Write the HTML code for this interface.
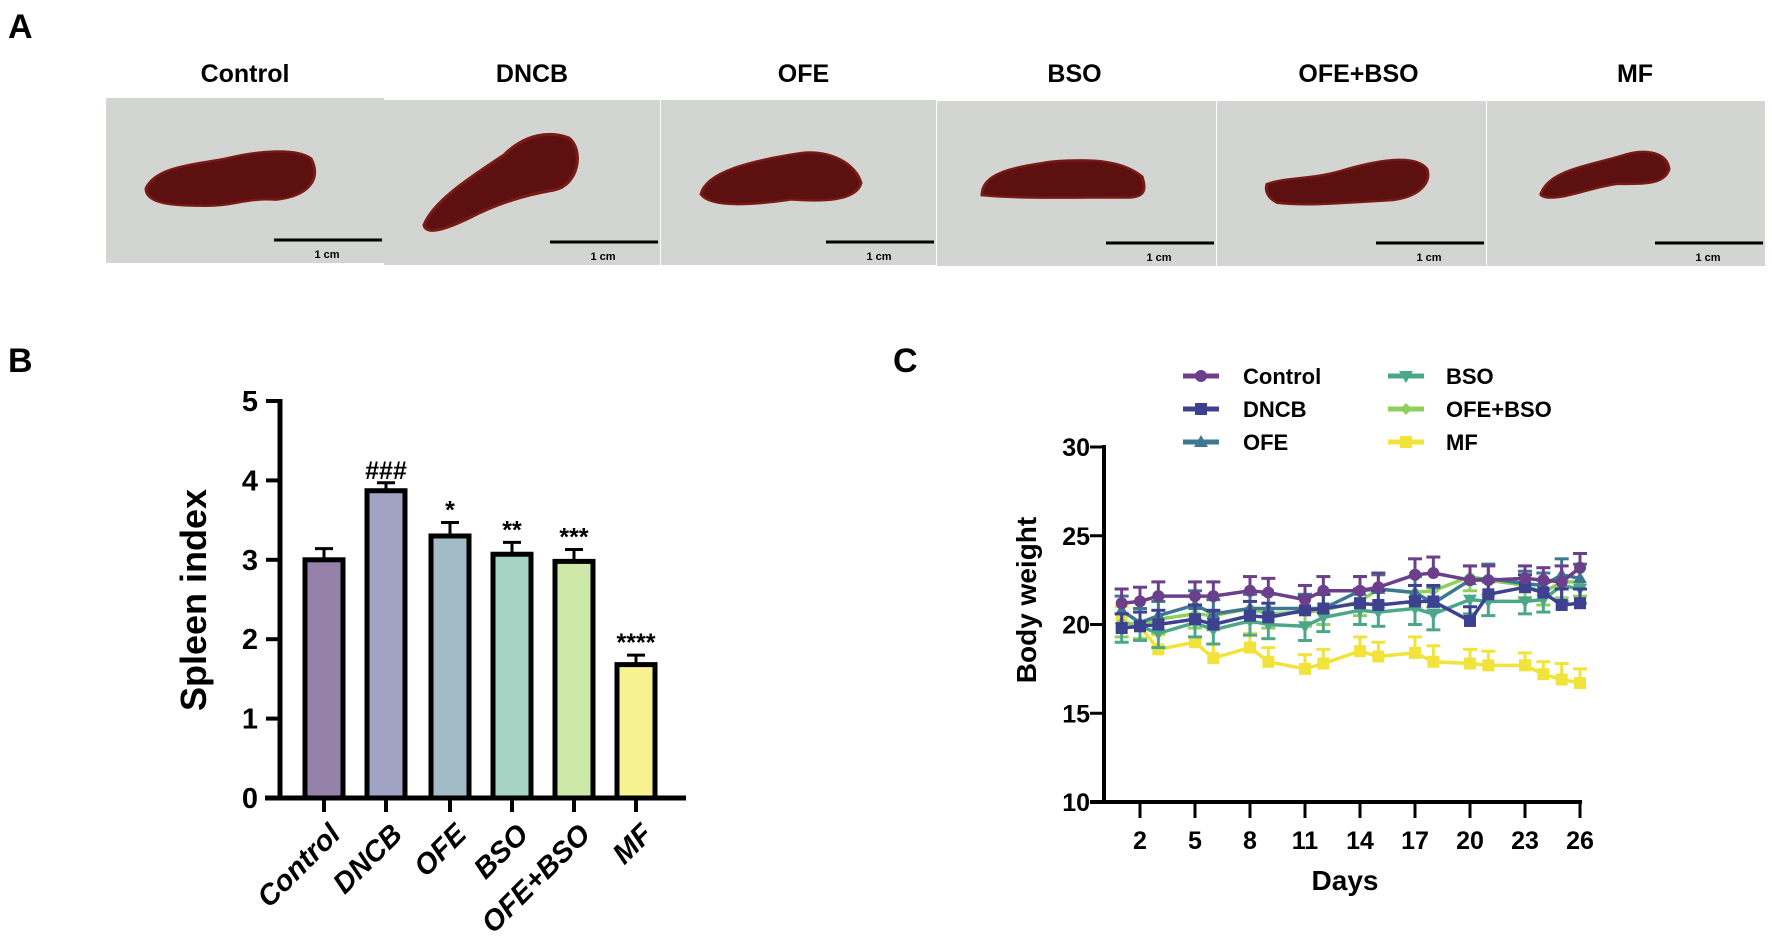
<!DOCTYPE html>
<html><head><meta charset="utf-8"><style>
html,body{margin:0;padding:0;background:#fff;}
svg{display:block;font-family:"Liberation Sans Narrow","Liberation Sans",sans-serif;font-weight:bold;}
</style></head><body>
<svg id="fig" width="1772" height="941" viewBox="0 0 1772 941" xmlns="http://www.w3.org/2000/svg">
<text x="8" y="38" font-size="34" font-family="Liberation Sans">A</text>
<g id="panelA"></g>
<text x="8" y="372" font-size="34" font-family="Liberation Sans">B</text>
<g id="panelB"></g>
<text x="893" y="372" font-size="34" font-family="Liberation Sans">C</text>
<g id="panelC"></g>
</svg>
<script>
// ---- Panel B data ----
const groups = ["Control","DNCB","OFE","BSO","OFE+BSO","MF"];
const spleenMeans = [3.0,3.87,3.3,3.07,2.98,1.68];
const spleenErrs = [0.14,0.1,0.17,0.15,0.15,0.12];
const spleenSig = ["","###","*","**","***","****"];
const spleenTicks = [0,1,2,3,4,5];
// ---- Panel C data ----
const days = [1,2,3,5,6,8,9,11,12,14,15,17,18,20,21,23,24,25,26];
const dayTicks = [2,5,8,11,14,17,20,23,26];
const weightTicks = [10,15,20,25,30];
const wControl = [21.2,21.3,21.6,21.6,21.6,21.9,21.8,21.4,21.9,21.9,22.1,22.8,22.9,22.5,22.5,22.6,22.5,22.4,23.2];
const wDNCB = [19.8,19.9,20.0,20.3,20.0,20.5,20.4,20.8,20.9,21.2,21.1,21.3,21.3,20.2,21.7,22.1,21.8,21.1,21.2];
const wOFE = [20.8,20.1,20.5,21.1,20.6,20.9,20.9,20.9,20.9,21.9,22.0,21.8,21.2,22.5,22.6,22.3,22.2,22.8,22.6];
const wBSO = [19.8,19.9,19.5,20.1,19.7,20.2,20.0,19.9,20.4,20.8,20.7,20.9,20.6,21.4,21.3,21.3,21.4,22.2,22.0];
const wOFEBSO = [20.1,20.0,20.3,20.6,20.5,20.9,20.6,20.7,20.8,21.3,22.0,21.8,21.9,22.7,22.5,22.2,21.8,22.4,22.4];
const wMF = [20.2,19.9,18.6,19.0,18.1,18.7,17.9,17.5,17.8,18.5,18.2,18.4,17.9,17.8,17.7,17.7,17.2,16.9,16.7];
const wErr = [0.8,0.8,0.8,0.8,0.8,0.8,0.8,0.8,0.8,0.8,0.8,0.9,0.9,0.8,0.8,0.7,0.7,0.9,0.8];

const NS="http://www.w3.org/2000/svg";
function mk(tag,attrs,parent,text){const e=document.createElementNS(NS,tag);for(const k in attrs)e.setAttribute(k,attrs[k]);if(text!==undefined)e.textContent=text;parent.appendChild(e);return e;}

// ---- Panel A ----
const A=document.getElementById('panelA');
const photoX=[106,384,661,937,1217,1487];
const photoW=[278,276,275,279,269,278];
const photoTop=[98,100,100,101,101,101];
const titleOff=[0,10,5,-2,7,9];
const shapes=[
 "M40 110 C50 80 90 78 120 70 C150 60 190 55 205 70 C215 95 205 120 170 125 C140 122 125 135 95 133 C60 133 40 128 40 110Z",
 "M40 125 C50 100 90 75 120 55 C140 35 165 30 185 38 C200 50 195 85 170 90 C140 95 110 105 85 118 C60 130 42 135 40 125Z",
 "M30 115 C35 85 80 70 130 60 C160 55 185 75 190 100 C185 125 150 125 120 122 C90 128 40 135 30 115Z",
 "M30 115 C30 85 60 78 100 70 C140 66 170 68 190 90 C195 110 192 120 170 118 C120 118 70 120 30 115Z",
 "M40 100 C60 90 85 95 120 80 C160 65 190 62 200 80 C205 100 190 120 160 122 C120 125 80 130 50 125 C40 118 38 108 40 100Z",
 "M45 110 C55 80 95 75 130 60 C150 53 170 58 172 80 C168 100 150 100 120 100 C95 104 70 120 50 118 C43 116 43 114 45 110Z"];
const photoOff=[0,0,10,15,10,10];
groups.forEach((g,i)=>{
  const gp=mk('g',{transform:`translate(${photoX[i]},${photoTop[i]})`},A);
  
  
  mk('rect',{x:0,y:0,width:photoW[i],height:165,fill:'#d3d5d2'},gp);
  const tf = i===1 ? `translate(0,0)` : `translate(${photoOff[i]},8) scale(1,0.75)`;
  mk('path',{d:shapes[i],fill:'#5c1010',stroke:'#7a1a14','stroke-width':3,transform:tf},gp);
  mk('line',{x1:photoW[i]-110,x2:photoW[i]-2,y1:142,y2:142,stroke:'#000','stroke-width':3},gp);
  mk('text',{x:photoW[i]-57,y:160,'font-size':11,'text-anchor':'middle','font-family':'Liberation Sans'},gp,'1 cm');
  const t=mk('text',{x:photoX[i]+photoW[i]/2+titleOff[i],y:82,'font-size':25,'text-anchor':'middle','font-family':'Liberation Sans'},A,g);
  
  
});

// ---- Panel B ----
const B=document.getElementById('panelB');
const bx0=280,by0=798,by5=401;
const yB=v=>by0+(by5-by0)*v/5;
const barCx=[324,386,450,512,574,636], barW=38;
const barFill=['#9681aa','#a0a3c4','#a2bbc6','#a6d4c4','#cde8a8','#f7f291'];
mk('line',{x1:bx0,x2:bx0,y1:by5-2,y2:by0,stroke:'#000','stroke-width':5},B);
mk('line',{x1:bx0-15,x2:686,y1:by0,y2:by0,stroke:'#000','stroke-width':5},B);
spleenTicks.forEach(t=>{
  mk('line',{x1:bx0-14,x2:bx0,y1:yB(t),y2:yB(t),stroke:'#000','stroke-width':4},B);
  const e=mk('text',{x:bx0-22,y:yB(t)+10,'font-size':29,'text-anchor':'end'},B,t);
  
  
});
const yl=mk('text',{transform:`translate(206,600) rotate(-90)`,'font-size':36,'text-anchor':'middle','font-family':'Liberation Sans'},B,'Spleen index');


groups.forEach((g,i)=>{
  const cx=barCx[i],v=spleenMeans[i],e=spleenErrs[i];
  mk('line',{x1:cx,x2:cx,y1:yB(v),y2:yB(v+e),stroke:'#000','stroke-width':3},B);
  mk('line',{x1:cx-9,x2:cx+9,y1:yB(v+e),y2:yB(v+e),stroke:'#000','stroke-width':3},B);
  const r=mk('rect',{x:cx-barW/2,y:yB(v),width:barW,height:by0-yB(v),fill:barFill[i],stroke:'#000','stroke-width':5},B);
  
  
  if(spleenSig[i]){const s=mk('text',{x:cx,y:yB(v+e)-4,'font-size':25,'text-anchor':'middle','font-family':'Liberation Sans'},B,spleenSig[i]);
    
    }
  mk('line',{x1:cx,x2:cx,y1:by0,y2:by0+14,stroke:'#000','stroke-width':4},B);
  const l=mk('text',{transform:`translate(${cx+18},${by0+38}) rotate(-45)`,'font-size':29,'text-anchor':'end','font-style':'italic','font-family':'Liberation Sans'},B,g);
  
  
});

// ---- Panel C ----
const C=document.getElementById('panelC');
const cx0=1104,cy10=802,cy30=447,d2=1140,d26=1580;
const xC=d=>d2+(d26-d2)*(d-2)/24;
const yC=v=>cy10+(cy30-cy10)*(v-10)/20;
mk('line',{x1:cx0,x2:cx0,y1:cy30-2,y2:cy10,stroke:'#000','stroke-width':4},C);
mk('line',{x1:cx0-14,x2:xC(26)+2,y1:cy10,y2:cy10,stroke:'#000','stroke-width':4},C);
weightTicks.forEach(t=>{
  mk('line',{x1:cx0-14,x2:cx0,y1:yC(t),y2:yC(t),stroke:'#000','stroke-width':3},C);
  const e=mk('text',{x:cx0-14,y:yC(t)+9,'font-size':25,'text-anchor':'end'},C,t);
  
  
});
dayTicks.forEach(t=>{
  mk('line',{x1:xC(t),x2:xC(t),y1:cy10,y2:cy10+16,stroke:'#000','stroke-width':3},C);
  const e=mk('text',{x:xC(t),y:cy10+47,'font-size':25,'text-anchor':'middle'},C,t);
  
  
});
const dl=mk('text',{x:1345,y:890,'font-size':28,'text-anchor':'middle','font-family':'Liberation Sans'},C,'Days');


const wl=mk('text',{transform:`translate(1036,600) rotate(-90)`,'font-size':28,'text-anchor':'middle','font-family':'Liberation Sans'},C,'Body weight');



const series=[
 {n:'Control',d:wControl,c:'#6b3f8c',m:'circle'},
 {n:'DNCB',d:wDNCB,c:'#3d4190',m:'square'},
 {n:'OFE',d:wOFE,c:'#3c7890',m:'tri'},
 {n:'BSO',d:wBSO,c:'#4ca78a',m:'tridown'},
 {n:'OFE+BSO',d:wOFEBSO,c:'#8fd05c',m:'diamond'},
 {n:'MF',d:wMF,c:'#f1e33a',m:'square'}];
function marker(m,x,y,c,p){
  if(m==='circle')return mk('circle',{cx:x,cy:y,r:6,fill:c},p);
  if(m==='square')return mk('rect',{x:x-6,y:y-6,width:12,height:12,fill:c},p);
  if(m==='tri')return mk('polygon',{points:`${x},${y-7} ${x-7},${y+5} ${x+7},${y+5}`,fill:c},p);
  if(m==='tridown')return mk('polygon',{points:`${x},${y+7} ${x-7},${y-5} ${x+7},${y-5}`,fill:c},p);
  return mk('polygon',{points:`${x},${y-6} ${x-6},${y} ${x},${y+6} ${x+6},${y}`,fill:c},p);
}
const drawOrder=[5,4,3,2,1,0];
drawOrder.forEach(si=>{
  const s=series[si];
  const g=mk('g',{},C);
  
  
  s.d.forEach((v,i)=>{
    const x=xC(days[i]);
    const up = s.n==='BSO'||s.n==='OFE+BSO' ? -1 : 1;
    const ye=yC(v+up*wErr[i]);
    mk('line',{x1:x,x2:x,y1:yC(v),y2:ye,stroke:s.c,'stroke-width':3},g);
    mk('line',{x1:x-7,x2:x+7,y1:ye,y2:ye,stroke:s.c,'stroke-width':3},g);
  });
  mk('polyline',{points:s.d.map((v,i)=>xC(days[i])+','+yC(v)).join(' '),fill:'none',stroke:s.c,'stroke-width':3.5},g);
  s.d.forEach((v,i)=>{const p=marker(s.m,xC(days[i]),yC(v),s.c,g);
    
    });
});
// legend
const legX=[1183,1388],legTX=[1243,1446],legY=[376,409,442];
series.forEach((s,i)=>{
  const col=Math.floor(i/3),row=i%3;
  const g=mk('g',{},C);
  
  
  mk('line',{x1:legX[col],x2:legX[col]+36,y1:legY[row],y2:legY[row],stroke:s.c,'stroke-width':5},g);
  marker(s.m,legX[col]+18,legY[row],s.c,g);
  mk('text',{x:legTX[col],y:legY[row]+8,'font-size':22,'font-family':'Liberation Sans'},g,s.n);
});
</script>
</body></html>
